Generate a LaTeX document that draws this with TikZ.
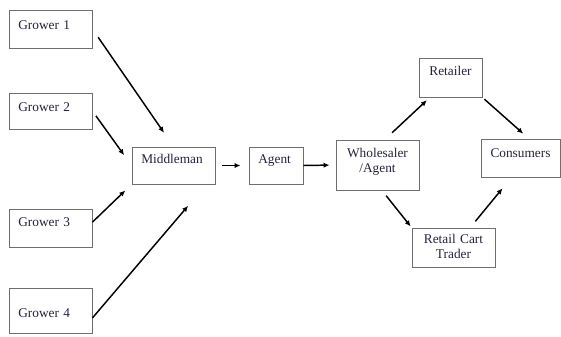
\documentclass[tikz,border=0pt]{standalone}
\usepackage{fontspec}
\setmainfont{Liberation Serif}
\usepackage{tikz}
\usetikzlibrary{arrows.meta, positioning}
\definecolor{boxgray}{RGB}{110,110,110}
\definecolor{inkblue}{RGB}{35,35,60}

\begin{document}
\begin{tikzpicture}[x=0.75pt, y=-0.75pt,
  box/.style={draw=boxgray, line width=0.7pt, inner xsep=7pt, inner ysep=0pt, text=inkblue,
    font=\fontsize{10}{11}\selectfont, align=left},
  midbox/.style={box, inner xsep=0pt, align=center},
  flow/.style={-{Latex[length=4.5pt,width=4pt]}, line width=1.1pt}]
  \useasboundingbox (0,0) rectangle (561,336);
  % growers
  \node[box, text width=48.25pt, text height=14.75pt, text depth=13.75pt] (g1) at (50.5,29) {Grower 1};
  \node[box, text width=48.25pt, text height=13.8pt, text depth=13.2pt] (g2) at (50.5,111) {Grower 2};
  \node[box, text width=48.25pt, text height=13pt, text depth=15.5pt] (g3) at (50.5,228) {Grower 3};
  \node[box, text width=48.25pt, text height=22.25pt, text depth=11.5pt] (g4) at (50.5,310.5) {Grower 4};
  % chain
  \node[box, text width=48.25pt, text height=12.5pt, text depth=15.25pt] (mid) at (173.5,165.5) {Middleman};
  \node[box, text width=26.5pt, text height=12.5pt, text depth=15.25pt] (agent) at (276,165.5) {Agent};
  \node[midbox, text width=62.25pt, text height=13pt, text depth=24.5pt] (ws) at (377.5,165) {Wholesaler\\/Agent};
  \node[midbox, text width=47.25pt, text height=13.25pt, text depth=16pt] (ret) at (450.5,77.5) {Retailer};
  \node[midbox, text width=59.25pt, text height=14pt, text depth=14.5pt] (con) at (520.5,158) {Consumers};
  \node[midbox, text width=62.25pt, text height=11.75pt, text depth=17.5pt] (rct) at (453.5,247.5) {Retail Cart\\Trader};
  % arrows
  \draw[flow, shorten <=7.5pt, shorten >=12.5pt] (g1.east) -- (mid.north);
  \draw[flow, shorten <=4.5pt, shorten >=9.5pt] (g2.east) -- (mid.west);
  \draw[flow, shorten >=6.5pt] (g3.8) -- (mid.south west);
  \draw[flow, shorten >=21pt] (g4.-10) -- (mid.-30);
  \draw[flow, shorten <=5.25pt, shorten >=6pt] (mid.east) -- (agent.west);
  \draw[flow, shorten >=4.5pt] (agent.east) -- (ws.west);
  \draw[flow, shorten <=7.5pt, shorten >=3pt] (ws.74) -- (ret.224);
  \draw[flow, shorten <=2pt, shorten >=5.5pt] (ret.south east) -- (con.67);
  \draw[flow, shorten <=5pt, shorten >=1pt] (ws.-80) -- (rct.north west);
  \draw[flow, shorten <=6pt, shorten >=10.5pt] (rct.50) -- (con.-115);
\end{tikzpicture}
\end{document}
